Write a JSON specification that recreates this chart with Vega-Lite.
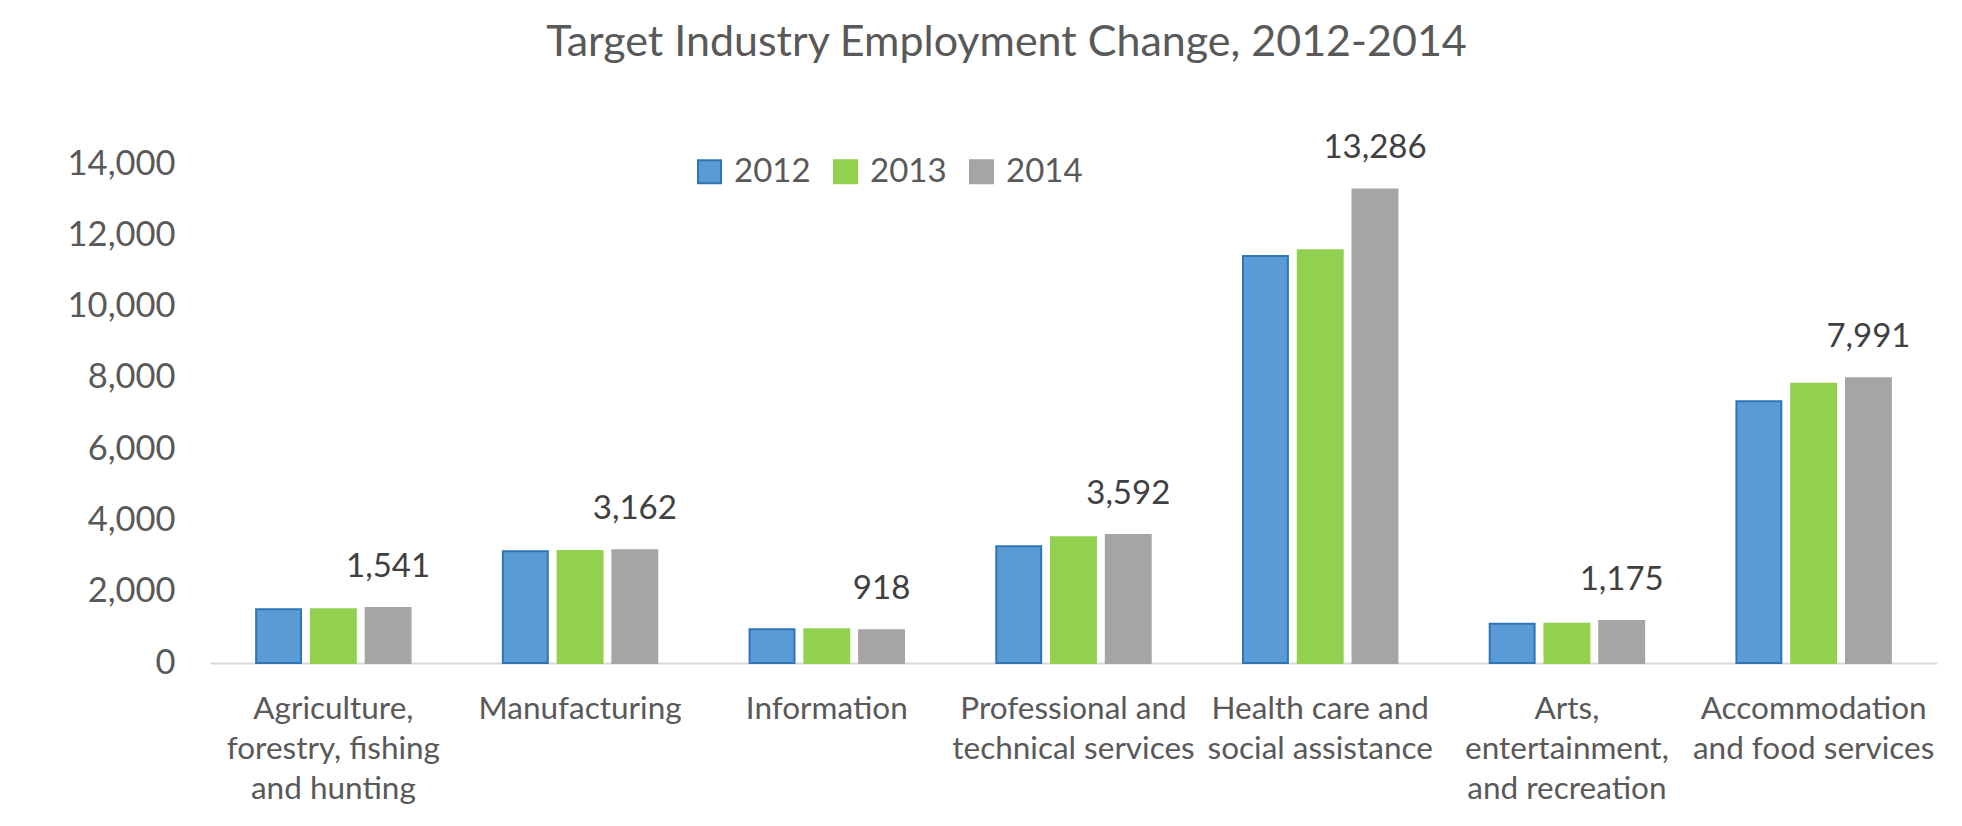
{
  "$schema": "https://vega.github.io/schema/vega-lite/v6.json",
  "autosize": {"type": "none"},
  "width": 1727,
  "height": 499,
  "padding": {"left": 210, "top": 164, "right": 25, "bottom": 163},
  "background": "white",
  "config": {
    "font": "Lato",
    "view": {"stroke": null}
  },
  "title": {
    "text": "Target Industry Employment Change, 2012-2014",
    "fontSize": 43,
    "fontWeight": "normal",
    "color": "#595959",
    "anchor": "middle",
    "offset": 67,
    "dx": -67
  },
  "data": {
    "values": [
      {"industry": "Agriculture, forestry, fishing and hunting", "year": "2012", "employment": 1510},
      {"industry": "Agriculture, forestry, fishing and hunting", "year": "2013", "employment": 1510},
      {"industry": "Agriculture, forestry, fishing and hunting", "year": "2014", "employment": 1541},
      {"industry": "Manufacturing", "year": "2012", "employment": 3135},
      {"industry": "Manufacturing", "year": "2013", "employment": 3140},
      {"industry": "Manufacturing", "year": "2014", "employment": 3162},
      {"industry": "Information", "year": "2012", "employment": 945},
      {"industry": "Information", "year": "2013", "employment": 945},
      {"industry": "Information", "year": "2014", "employment": 918},
      {"industry": "Professional and technical services", "year": "2012", "employment": 3277},
      {"industry": "Professional and technical services", "year": "2013", "employment": 3527},
      {"industry": "Professional and technical services", "year": "2014", "employment": 3592},
      {"industry": "Health care and social assistance", "year": "2012", "employment": 11421},
      {"industry": "Health care and social assistance", "year": "2013", "employment": 11581},
      {"industry": "Health care and social assistance", "year": "2014", "employment": 13286},
      {"industry": "Arts, entertainment, and recreation", "year": "2012", "employment": 1100},
      {"industry": "Arts, entertainment, and recreation", "year": "2013", "employment": 1100},
      {"industry": "Arts, entertainment, and recreation", "year": "2014", "employment": 1175},
      {"industry": "Accommodation and food services", "year": "2012", "employment": 7346},
      {"industry": "Accommodation and food services", "year": "2013", "employment": 7834},
      {"industry": "Accommodation and food services", "year": "2014", "employment": 7991}
    ]
  },
  "encoding": {
    "x": {
      "field": "industry",
      "type": "nominal",
      "sort": null,
      "scale": {"paddingInner": 0.374, "paddingOuter": 0.187},
      "axis": {
        "title": null,
        "labelAngle": 0,
        "ticks": false,
        "tickSize": 0,
        "domainColor": "#D9D9D9",
        "domainWidth": 2,
        "labelFontSize": 31.5,
        "labelColor": "#595959",
        "labelPadding": 30,
        "labelBaseline": "top",
        "labelLineHeight": 40,
        "labelLimit": 400,
        "labelExpr": "datum.value == 'Agriculture, forestry, fishing and hunting' ? ['Agriculture,', 'forestry, fishing', 'and hunting'] : datum.value == 'Professional and technical services' ? ['Professional and', 'technical services'] : datum.value == 'Health care and social assistance' ? ['Health care and', 'social assistance'] : datum.value == 'Arts, entertainment, and recreation' ? ['Arts,', 'entertainment,', 'and recreation'] : datum.value == 'Accommodation and food services' ? ['Accommodation', 'and food services'] : datum.value"
      }
    },
    "xOffset": {
      "field": "year",
      "type": "nominal",
      "scale": {"paddingInner": 0.18, "paddingOuter": 0}
    },
    "y": {
      "field": "employment",
      "type": "quantitative",
      "scale": {"domain": [0, 14000], "nice": false},
      "axis": {
        "title": null,
        "values": [0, 2000, 4000, 6000, 8000, 10000, 12000, 14000],
        "format": ",d",
        "grid": false,
        "domain": false,
        "ticks": false,
        "tickSize": 0,
        "labelFontSize": 34.5,
        "labelColor": "#595959",
        "labelPadding": 35
      }
    }
  },
  "layer": [
    {
      "mark": {"type": "bar", "strokeWidth": 2},
      "encoding": {
        "color": {
          "field": "year",
          "type": "nominal",
          "scale": {"domain": ["2012", "2013", "2014"], "range": ["#5B9BD5", "#92D050", "#A5A5A5"]},
          "legend": {
            "title": null,
            "orient": "none",
            "direction": "horizontal",
            "legendX": 483,
            "legendY": -9,
            "padding": 0,
            "symbolType": "square",
            "symbolSize": 530,
            "symbolStrokeWidth": 2,
            "labelFontSize": 33,
            "labelColor": "#595959",
            "labelOffset": 8,
            "columnPadding": 18
          }
        },
        "stroke": {
          "field": "year",
          "type": "nominal",
          "scale": {"domain": ["2012", "2013", "2014"], "range": ["#2E75B6", "#92D050", "#A5A5A5"]},
          "legend": {
            "title": null,
            "orient": "none",
            "direction": "horizontal",
            "legendX": 483,
            "legendY": -9,
            "padding": 0,
            "symbolType": "square",
            "symbolSize": 530,
            "symbolStrokeWidth": 2,
            "labelFontSize": 33,
            "labelColor": "#595959",
            "labelOffset": 8,
            "columnPadding": 18
          }
        }
      }
    },
    {
      "transform": [{"filter": "datum.year == '2014'"}],
      "mark": {"type": "text", "baseline": "alphabetic", "dy": -31, "fontSize": 33, "color": "#404040"},
      "encoding": {
        "text": {"field": "employment", "type": "quantitative", "format": ",d"}
      }
    }
  ]
}
